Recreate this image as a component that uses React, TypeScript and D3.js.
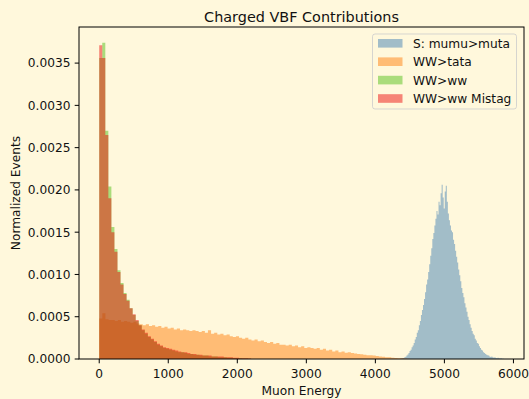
import React from 'react';
import * as d3 from 'd3';

const W = 529;
const H = 399;
const plot = { left: 79, right: 524, top: 27, bottom: 359 };
const bg = '#fff8dc';
const font = 'DejaVu Sans, Liberation Sans, sans-serif';

const seriesNames = ['S: mumu>muta', 'WW>tata', 'WW>ww', 'WW>ww Mistag'];
const seriesColors = ['#4682b4', '#ff7f0e', '#55c01a', '#ee1010'];

// bin ranges [first edge, last edge]; densities per bin
const signalRange = [4360, 5860];
const signalDensity = [
  0.000003, 0.000005, 0.000008, 0.000012, 0.00002, 0.000028, 0.00004, 0.000052, 0.00007, 0.000095,
  0.00011, 0.00014, 0.00016, 0.00019, 0.00023, 0.00026, 0.00031, 0.00034, 0.0004, 0.00045,
  0.00052, 0.00058, 0.00064, 0.00071, 0.00079, 0.00088, 0.00094, 0.00103, 0.00112, 0.00122,
  0.00131, 0.00142, 0.00149, 0.00158, 0.00166, 0.00175, 0.00171, 0.00186, 0.00182, 0.00196,
  0.00206, 0.00191, 0.00178, 0.00198, 0.00205, 0.00186, 0.00172, 0.00164, 0.00158, 0.00152,
  0.0015, 0.00141, 0.00136, 0.00128, 0.00121, 0.00114, 0.00106, 0.00099, 0.00092, 0.00084,
  0.00078, 0.00073, 0.00066, 0.00061, 0.00056, 0.0005, 0.00046, 0.00041, 0.00037, 0.00033,
  0.0003, 0.00028, 0.00024, 0.00022, 0.00019, 0.00018, 0.00015, 0.00013, 0.00011, 0.0001,
  0.00008, 0.00007, 0.00006, 0.00005, 0.000045, 0.00004, 0.00003, 0.000025, 0.00003, 0.00002,
  0.000015, 0.00002, 0.000012, 0.00001, 0.000015, 0.000008, 0.000005, 0.000008, 0.000003, 0.000004,
];

const tataRange = [0, 4500];
const tataDensity = [
  0.00048, 0.00054, 0.00047, 0.00046, 0.00046, 0.00045, 0.00046, 0.00044, 0.00045, 0.00044,
  0.00043, 0.00044, 0.00042, 0.00041, 0.0004, 0.00041, 0.00039, 0.0004, 0.00038, 0.00039,
  0.00037, 0.00038, 0.00036, 0.00037, 0.00035, 0.00036, 0.00034, 0.00035, 0.00034, 0.00033,
  0.00034, 0.00033, 0.00032, 0.00033, 0.00031, 0.00034, 0.0003, 0.00031, 0.00029, 0.0003,
  0.00028, 0.00029, 0.00027, 0.00026, 0.00027, 0.00025, 0.00024, 0.00025, 0.00023, 0.00022,
  0.00023, 0.00021, 0.00022, 0.0002, 0.00019, 0.0002, 0.00018, 0.00019, 0.00017, 0.00017,
  0.00016, 0.00017, 0.00015, 0.00016, 0.00014, 0.00015, 0.00013, 0.00014, 0.00013, 0.00012,
  0.00013, 0.00011, 0.00012, 0.0001, 0.00011, 0.00009, 0.0001, 0.00008, 0.00009, 0.000075,
  0.00008, 0.00007, 0.000065, 0.00006, 0.000055, 0.00005, 0.000045, 0.000045, 0.00004, 0.000035,
  0.00003, 0.000028, 0.000022, 0.00002, 0.000015, 0.000012, 0.00001, 0.000008, 0.000005, 0.000003,
];

const wwRange = [0, 2200];
const wwDensity = [
  0.00356, 0.00374, 0.0027, 0.00204, 0.00156, 0.0013, 0.00105, 0.0009, 0.00078, 0.0007,
  0.0006, 0.00052, 0.00045, 0.0004, 0.00034, 0.0003, 0.00026, 0.00023, 0.0002, 0.00017,
  0.00015, 0.00013, 0.00012, 0.00011, 0.0001, 0.00009, 0.00008, 0.00008, 0.00007, 0.00006,
  0.00006, 0.00005, 0.00005, 0.00004, 0.00004, 0.00004, 0.00003, 0.00003, 0.00003, 0.00002,
  0.00002, 0.00002, 0.000015, 0.000015, 0.00001, 0.00001, 0.000008, 0.000006, 0.000005, 0.000003,
];

const mistagRange = [0, 2200];
const mistagDensity = [
  0.00371, 0.00356, 0.00265, 0.0019, 0.0015, 0.00127, 0.00103, 0.00088, 0.00077, 0.00069,
  0.0006, 0.00053, 0.00046, 0.0004, 0.00035, 0.00031, 0.00027, 0.00024, 0.00021, 0.00018,
  0.00016, 0.00014, 0.00013, 0.00012, 0.00011, 0.0001, 0.00009, 0.00008, 0.00008, 0.00007,
  0.00006, 0.00006, 0.00005, 0.00005, 0.00004, 0.00004, 0.00004, 0.00003, 0.00003, 0.00003,
  0.00003, 0.00002, 0.00002, 0.00002, 0.000015, 0.000015, 0.00001, 0.00001, 0.000008, 0.000006,
];

const xTicks = [0, 1000, 2000, 3000, 4000, 5000, 6000];
const yTicks = [0, 0.0005, 0.001, 0.0015, 0.002, 0.0025, 0.003, 0.0035];

const series = [
  { range: signalRange, values: signalDensity },
  { range: tataRange, values: tataDensity },
  { range: wwRange, values: wwDensity },
  { range: mistagRange, values: mistagDensity },
];

export default function App() {
  const xMin = d3.min(series, (s) => s.range[0]) as number;
  const xMax = d3.max(series, (s) => s.range[1]) as number;
  const pad = (xMax - xMin) * 0.05;
  const x = d3.scaleLinear().domain([xMin - pad, xMax + pad]).range([plot.left, plot.right]);
  const yMax = d3.max(series, (s) => d3.max(s.values) as number) as number;
  const y = d3.scaleLinear().domain([0, yMax * 1.05]).range([plot.bottom, plot.top]);
  const fmt = d3.format('.4f');

  const area = d3
    .area<{ e: number; v: number }>()
    .x((d) => x(d.e))
    .y0(y(0))
    .y1((d) => y(d.v))
    .curve(d3.curveStepAfter);

  const paths = series.map((s, si) => {
    const n = s.values.length;
    const w = (s.range[1] - s.range[0]) / n;
    const pts = s.values.map((v, i) => ({ e: s.range[0] + i * w, v }));
    pts.push({ e: s.range[1], v: s.values[n - 1] });
    return (
      <path key={`s${si}`} d={area(pts) as string} fill={seriesColors[si]} fillOpacity={0.5} />
    );
  });

  const legendX = 372.5;
  const legendY = 34;
  const rowH = 18.4;

  return (
    <svg
      width={W}
      height={H}
      style={{ position: 'absolute', left: 0, top: 0, fontFamily: font }}
    >
      <rect x={0} y={0} width={W} height={H} fill={bg} />
      {paths}
      <rect
        x={plot.left}
        y={plot.top}
        width={plot.right - plot.left}
        height={plot.bottom - plot.top}
        fill="none"
        stroke="#000"
        strokeWidth={1}
      />
      {xTicks.map((t) => (
        <g key={`xt${t}`}>
          <line x1={x(t)} x2={x(t)} y1={plot.bottom} y2={plot.bottom + 4.3} stroke="#000" strokeWidth={1} />
          <text x={x(t)} y={378} textAnchor="middle" fontSize={12.2} fill="#111">
            {t}
          </text>
        </g>
      ))}
      {yTicks.map((t) => (
        <g key={`yt${t}`}>
          <line x1={plot.left - 4.3} x2={plot.left} y1={y(t)} y2={y(t)} stroke="#000" strokeWidth={1} />
          <text x={70.5} y={y(t) + 4.4} textAnchor="end" fontSize={12.2} fill="#111">
            {fmt(t)}
          </text>
        </g>
      ))}
      <text x={(plot.left + plot.right) / 2} y={394.5} textAnchor="middle" fontSize={12.2} fill="#111">
        Muon Energy
      </text>
      <text
        transform={`translate(19.5, ${(plot.top + plot.bottom) / 2}) rotate(-90)`}
        textAnchor="middle"
        fontSize={12.2}
        fill="#111"
      >
        Normalized Events
      </text>
      <text x={(plot.left + plot.right) / 2} y={21.5} textAnchor="middle" fontSize={14.4} fill="#111">
        Charged VBF Contributions
      </text>
      <rect
        x={legendX}
        y={legendY}
        width={144}
        height={75}
        rx={2.5}
        fill={bg}
        fillOpacity={0.8}
        stroke="#cccccc"
        strokeOpacity={0.8}
        strokeWidth={1}
      />
      {seriesNames.map((name, i) => {
        const cy = legendY + 9.3 + i * rowH;
        return (
          <g key={name}>
            <rect x={378} y={cy - 4.3} width={24.5} height={8.6} fill={seriesColors[i]} fillOpacity={0.5} />
            <text x={413} y={cy + 4.4} fontSize={12.2} fill="#111">
              {name}
            </text>
          </g>
        );
      })}
    </svg>
  );
}
